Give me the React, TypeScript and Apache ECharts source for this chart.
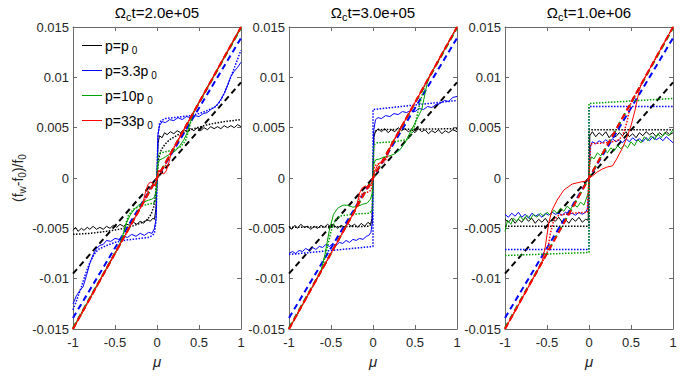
import { useEffect, useRef } from 'react';
import * as echarts from 'echarts';

type Pt = [number, number];

const FONT = '"Liberation Sans", Arial, Helvetica, sans-serif';

const panelTimes = ['2.0e+05', '3.0e+05', '1.0e+06'];
const legendNames = ['p=p0', 'p=3.3p0', 'p=10p0', 'p=33p0'];
const lineColors = ['#000000', '#0000ff', '#009f00', '#ff0000'];
const colorKeys = ['black', 'blue', 'green', 'red'];

// dashed reference lines (same in each panel)
const blackDash: Pt[] = [[-1, -0.0095], [1, 0.0095]];
const blueDash: Pt[] = [[-1, -0.0139], [1, 0.0139]];
const greenDash: Pt[] = [[-1, -0.0149], [1, 0.0149]];
const redDash: Pt[] = [[-1, -0.015], [1, 0.015]];

// ---------- Panel 1: Ωct = 2.0e+05 ----------
const p1BlackDot: Pt[] = [[-1, -0.0056], [-0.8, -0.0055], [-0.6, -0.0053], [-0.45, -0.0051], [-0.3, -0.0048], [-0.2, -0.0045], [-0.12, -0.0042], [-0.07, -0.0036], [-0.04, -0.0029], [-0.02, -0.0018], [-0.008, -0.0008], [0, 0], [0.008, 0.0009], [0.02, 0.0019], [0.05, 0.0028], [0.1, 0.0034], [0.15, 0.0038], [0.25, 0.0043], [0.4, 0.0048], [0.6, 0.0053], [0.8, 0.0056], [1, 0.0058]];
const p1BlackSolid: Pt[] = [[-1, -0.0052], [-0.97, -0.0049], [-0.94, -0.0053], [-0.9, -0.005], [-0.87, -0.0052], [-0.83, -0.0049], [-0.8, -0.0051], [-0.76, -0.0048], [-0.72, -0.0051], [-0.68, -0.0049], [-0.64, -0.0051], [-0.6, -0.0048], [-0.56, -0.005], [-0.52, -0.0047], [-0.48, -0.0049], [-0.44, -0.0046], [-0.4, -0.0048], [-0.36, -0.0046], [-0.32, -0.0047], [-0.28, -0.0044], [-0.24, -0.0046], [-0.2, -0.0043], [-0.16, -0.0045], [-0.12, -0.0041], [-0.08, -0.0043], [-0.05, -0.004], [-0.03, -0.0041], [-0.012, -0.003], [0, 0], [0.012, 0.0034], [0.03, 0.0042], [0.06, 0.004], [0.09, 0.0045], [0.12, 0.0043], [0.16, 0.0046], [0.2, 0.0044], [0.24, 0.0047], [0.28, 0.0045], [0.32, 0.0048], [0.36, 0.0046], [0.4, 0.0049], [0.44, 0.0047], [0.48, 0.005], [0.52, 0.0047], [0.56, 0.005], [0.6, 0.0048], [0.64, 0.0051], [0.68, 0.0049], [0.72, 0.0051], [0.76, 0.0049], [0.8, 0.0052], [0.84, 0.005], [0.88, 0.0052], [0.92, 0.005], [0.96, 0.0053], [1, 0.0051]];
const p1BlueDot: Pt[] = [[-1, -0.0131], [-0.95, -0.012], [-0.9, -0.0108], [-0.85, -0.0095], [-0.8, -0.0084], [-0.75, -0.0076], [-0.7, -0.0071], [-0.6, -0.0067], [-0.5, -0.0064], [-0.4, -0.0062], [-0.3, -0.0061], [-0.2, -0.006], [-0.1, -0.0059], [-0.05, -0.0057], [-0.03, -0.0054], [-0.015, -0.0045], [-0.005, -0.0022], [0, 0], [0.005, 0.0022], [0.015, 0.0045], [0.03, 0.0054], [0.05, 0.0057], [0.1, 0.0059], [0.2, 0.006], [0.3, 0.0061], [0.4, 0.0062], [0.5, 0.0064], [0.6, 0.0067], [0.7, 0.0071], [0.75, 0.0076], [0.8, 0.0084], [0.85, 0.0094], [0.9, 0.0105], [0.95, 0.0116], [1, 0.0127]];
const p1BlueSolid: Pt[] = [[-1, -0.0125], [-0.96, -0.0117], [-0.92, -0.0112], [-0.88, -0.0108], [-0.84, -0.0097], [-0.8, -0.0085], [-0.76, -0.0076], [-0.72, -0.007], [-0.68, -0.0067], [-0.64, -0.0066], [-0.6, -0.0062], [-0.55, -0.0063], [-0.5, -0.006], [-0.45, -0.0061], [-0.4, -0.0058], [-0.35, -0.0059], [-0.3, -0.0056], [-0.25, -0.0058], [-0.2, -0.0055], [-0.15, -0.0057], [-0.1, -0.0054], [-0.06, -0.0055], [-0.03, -0.005], [-0.01, -0.004], [0, 0], [0.01, 0.0042], [0.03, 0.0052], [0.06, 0.0056], [0.1, 0.0055], [0.15, 0.0058], [0.2, 0.0057], [0.25, 0.006], [0.3, 0.0058], [0.35, 0.0061], [0.4, 0.006], [0.45, 0.0062], [0.5, 0.0061], [0.55, 0.0064], [0.6, 0.0065], [0.64, 0.0068], [0.68, 0.007], [0.72, 0.0073], [0.76, 0.0078], [0.8, 0.0084], [0.84, 0.0092], [0.88, 0.0101], [0.92, 0.0106], [0.96, 0.011], [1, 0.0115]];
const p1GreenDot: Pt[] = [[-1, -0.015], [-0.42, -0.0063], [-0.38, -0.0048], [-0.34, -0.0037], [-0.28, -0.0031], [-0.2, -0.0028], [-0.1, -0.0026], [-0.04, -0.0025], [-0.015, -0.0022], [0, 0], [0.015, 0.0022], [0.04, 0.0025], [0.1, 0.0026], [0.2, 0.0028], [0.28, 0.0031], [0.34, 0.0037], [0.38, 0.0048], [0.42, 0.0063], [1, 0.015]];
const p1GreenSolid: Pt[] = [[-1, -0.0149], [-0.45, -0.0067], [-0.4, -0.0055], [-0.36, -0.0044], [-0.32, -0.0037], [-0.27, -0.0031], [-0.22, -0.0027], [-0.16, -0.0024], [-0.1, -0.0022], [-0.06, -0.0021], [-0.03, -0.0019], [-0.01, -0.0013], [0, 0], [0.01, 0.0014], [0.03, 0.0018], [0.06, 0.0019], [0.1, 0.0021], [0.16, 0.0024], [0.22, 0.0027], [0.27, 0.0032], [0.32, 0.0038], [0.36, 0.0045], [0.4, 0.0056], [0.45, 0.0068], [1, 0.0149]];
const p1RedDot: Pt[] = [[-1, -0.015], [-0.13, -0.00195], [-0.1, -0.0012], [-0.06, -0.0008], [-0.03, -0.0007], [-0.01, -0.0004], [0, 0], [0.01, 0.0004], [0.03, 0.0007], [0.06, 0.0008], [0.1, 0.0012], [0.13, 0.00195], [1, 0.015]];
const p1RedSolid: Pt[] = [[-1, -0.015], [-0.17, -0.00255], [-0.14, -0.0015], [-0.11, -0.0007], [-0.08, -0.0004], [-0.05, -0.0005], [-0.02, -0.0008], [0, 0], [0.02, 0.0008], [0.05, 0.0005], [0.08, 0.0004], [0.11, 0.0007], [0.14, 0.0015], [0.17, 0.00255], [1, 0.015]];

// ---------- Panel 2: Ωct = 3.0e+05 ----------
const p2BlackDot: Pt[] = [[-1, -0.0049], [-0.05, -0.0048], [-0.01, -0.0045], [0, 0], [0.01, 0.0045], [0.05, 0.0048], [1, 0.0049]];
const p2BlackSolid: Pt[] = [[-1, -0.0048], [-0.97, -0.0051], [-0.93, -0.0047], [-0.9, -0.005], [-0.86, -0.0046], [-0.82, -0.0049], [-0.78, -0.0048], [-0.74, -0.0051], [-0.7, -0.0048], [-0.66, -0.005], [-0.62, -0.0047], [-0.58, -0.0049], [-0.54, -0.0046], [-0.5, -0.0049], [-0.46, -0.0047], [-0.42, -0.005], [-0.38, -0.0047], [-0.34, -0.0049], [-0.3, -0.0045], [-0.26, -0.0048], [-0.22, -0.0046], [-0.18, -0.0049], [-0.14, -0.0045], [-0.1, -0.0048], [-0.06, -0.0044], [-0.03, -0.0046], [-0.01, -0.004], [0, 0], [0.01, 0.0041], [0.03, 0.0046], [0.06, 0.0049], [0.1, 0.0046], [0.14, 0.0049], [0.18, 0.0045], [0.22, 0.0048], [0.26, 0.0046], [0.3, 0.005], [0.34, 0.0047], [0.38, 0.0049], [0.42, 0.0046], [0.46, 0.0048], [0.5, 0.0045], [0.54, 0.0049], [0.58, 0.0046], [0.62, 0.0048], [0.66, 0.0044], [0.7, 0.0047], [0.74, 0.0045], [0.78, 0.0048], [0.82, 0.0044], [0.86, 0.0047], [0.9, 0.0045], [0.95, 0.0048], [1, 0.0046]];
const p2BlueDot: Pt[] = [[-1, -0.0076], [0, -0.0068], [0, 0.0068], [1, 0.0077]];
const p2BlueSolid: Pt[] = [[-1, -0.0075], [-0.96, -0.0073], [-0.92, -0.0075], [-0.88, -0.0072], [-0.84, -0.0073], [-0.8, -0.007], [-0.76, -0.0072], [-0.72, -0.0069], [-0.68, -0.0071], [-0.64, -0.0068], [-0.6, -0.0069], [-0.56, -0.0066], [-0.52, -0.0068], [-0.48, -0.0065], [-0.44, -0.0067], [-0.4, -0.0064], [-0.36, -0.0065], [-0.32, -0.0062], [-0.28, -0.0064], [-0.24, -0.0061], [-0.2, -0.0062], [-0.16, -0.006], [-0.12, -0.0061], [-0.08, -0.0058], [-0.05, -0.0057], [-0.025, -0.0054], [-0.01, -0.0045], [0, 0], [0.01, 0.0048], [0.03, 0.0058], [0.06, 0.006], [0.1, 0.0059], [0.15, 0.0062], [0.2, 0.0061], [0.25, 0.0064], [0.3, 0.0063], [0.35, 0.0066], [0.4, 0.0065], [0.45, 0.0067], [0.5, 0.0066], [0.55, 0.0069], [0.6, 0.0068], [0.65, 0.0071], [0.7, 0.007], [0.75, 0.0073], [0.8, 0.0074], [0.85, 0.0077], [0.9, 0.0076], [0.95, 0.008], [1, 0.0081]];
const p2GreenDot: Pt[] = [[-1, -0.015], [-0.62, -0.0093], [-0.56, -0.0075], [-0.5, -0.0053], [-0.45, -0.0042], [-0.4, -0.0038], [-0.25, -0.0036], [-0.05, -0.0035], [-0.01, -0.0033], [0, 0], [0.01, 0.0033], [0.05, 0.0035], [0.25, 0.0036], [0.4, 0.0038], [0.45, 0.0042], [0.5, 0.0053], [0.56, 0.0075], [0.62, 0.0093], [1, 0.015]];
const p2GreenSolid: Pt[] = [[-1, -0.015], [-0.62, -0.0093], [-0.57, -0.0075], [-0.52, -0.0052], [-0.47, -0.0036], [-0.42, -0.003], [-0.36, -0.0027], [-0.3, -0.0027], [-0.24, -0.0029], [-0.18, -0.0028], [-0.12, -0.0026], [-0.07, -0.0025], [-0.03, -0.0021], [-0.01, -0.0015], [0, 0], [0.01, 0.0014], [0.03, 0.0018], [0.08, 0.0019], [0.14, 0.0021], [0.2, 0.0022], [0.26, 0.0024], [0.32, 0.0028], [0.38, 0.0035], [0.44, 0.0045], [0.52, 0.0058], [0.58, 0.0068], [0.64, 0.0092], [0.66, 0.0099], [1, 0.015]];
const p2RedDot: Pt[] = [[-1, -0.015], [-0.2, -0.003], [-0.16, -0.0019], [-0.12, -0.0015], [-0.06, -0.0014], [-0.02, -0.0012], [0, 0], [0.02, 0.0012], [0.06, 0.0014], [0.12, 0.0015], [0.16, 0.0019], [0.2, 0.003], [1, 0.015]];
const p2RedSolid: Pt[] = [[-1, -0.015], [-0.22, -0.0033], [-0.19, -0.0026], [-0.16, -0.0015], [-0.13, -0.001], [-0.09, -0.0008], [-0.05, -0.001], [-0.02, -0.0006], [0, 0], [0.02, 0.0006], [0.05, 0.0012], [0.09, 0.0016], [0.13, 0.0017], [0.16, 0.0021], [0.19, 0.0027], [0.22, 0.0033], [1, 0.015]];

// ---------- Panel 3: Ωct = 1.0e+06 ----------
const p3BlackDot: Pt[] = [[-1, -0.0048], [0, -0.0048], [0, 0.0048], [1, 0.0048]];
const p3BlackSolid: Pt[] = [[-1, -0.0041], [-0.96, -0.0044], [-0.92, -0.004], [-0.88, -0.0045], [-0.84, -0.0041], [-0.8, -0.0044], [-0.76, -0.0039], [-0.72, -0.0043], [-0.68, -0.004], [-0.64, -0.0045], [-0.6, -0.0041], [-0.56, -0.0044], [-0.52, -0.004], [-0.48, -0.0045], [-0.44, -0.0041], [-0.4, -0.0043], [-0.36, -0.0039], [-0.32, -0.0044], [-0.28, -0.0041], [-0.24, -0.0045], [-0.2, -0.004], [-0.16, -0.0043], [-0.12, -0.0039], [-0.08, -0.0044], [-0.04, -0.0041], [-0.01, -0.0042], [0, 0], [0.01, 0.0042], [0.04, 0.0046], [0.08, 0.0041], [0.12, 0.0045], [0.16, 0.0042], [0.2, 0.0046], [0.24, 0.004], [0.28, 0.0044], [0.32, 0.0041], [0.36, 0.0045], [0.4, 0.0042], [0.44, 0.0046], [0.48, 0.0041], [0.52, 0.0044], [0.56, 0.004], [0.6, 0.0045], [0.64, 0.0042], [0.68, 0.0046], [0.72, 0.0043], [0.76, 0.0045], [0.8, 0.0041], [0.84, 0.0045], [0.88, 0.0042], [0.92, 0.0046], [0.96, 0.0043], [1, 0.0045]];
const p3BlueDot: Pt[] = [[-1, -0.0071], [0, -0.0071], [0, 0.0071], [1, 0.0071]];
const p3BlueSolid: Pt[] = [[-1, -0.0036], [-0.96, -0.0039], [-0.92, -0.0035], [-0.88, -0.0038], [-0.84, -0.0034], [-0.8, -0.0039], [-0.76, -0.0036], [-0.72, -0.004], [-0.68, -0.0035], [-0.64, -0.0038], [-0.6, -0.0036], [-0.56, -0.0039], [-0.52, -0.0035], [-0.48, -0.0037], [-0.44, -0.0034], [-0.4, -0.0036], [-0.36, -0.0035], [-0.32, -0.0037], [-0.28, -0.0034], [-0.24, -0.0036], [-0.2, -0.0035], [-0.16, -0.0037], [-0.12, -0.0034], [-0.08, -0.0036], [-0.04, -0.0034], [-0.015, -0.003], [0, 0], [0.015, 0.0031], [0.04, 0.0036], [0.08, 0.0034], [0.12, 0.0037], [0.16, 0.0035], [0.2, 0.0038], [0.24, 0.0035], [0.28, 0.0039], [0.32, 0.0036], [0.36, 0.0038], [0.4, 0.0035], [0.44, 0.0039], [0.48, 0.0036], [0.52, 0.004], [0.56, 0.0037], [0.6, 0.0039], [0.64, 0.0036], [0.68, 0.004], [0.72, 0.0037], [0.76, 0.0041], [0.8, 0.0038], [0.84, 0.004], [0.88, 0.0037], [0.92, 0.0041], [0.96, 0.0038], [1, 0.0035]];
const p3GreenDot: Pt[] = [[-1, -0.0077], [0, -0.0074], [0, 0.0074], [1, 0.0079]];
const p3GreenSolid: Pt[] = [[-1, -0.0053], [-0.97, -0.0042], [-0.93, -0.0046], [-0.9, -0.004], [-0.86, -0.0043], [-0.82, -0.0038], [-0.78, -0.0042], [-0.74, -0.0037], [-0.7, -0.0041], [-0.66, -0.0036], [-0.62, -0.0039], [-0.58, -0.0035], [-0.54, -0.0038], [-0.5, -0.0034], [-0.46, -0.0037], [-0.42, -0.0032], [-0.38, -0.0035], [-0.34, -0.003], [-0.3, -0.0033], [-0.26, -0.0028], [-0.22, -0.0031], [-0.18, -0.0026], [-0.14, -0.0029], [-0.1, -0.0024], [-0.06, -0.0027], [-0.03, -0.002], [-0.01, -0.0015], [0, 0], [0.01, 0.0016], [0.03, 0.0021], [0.06, 0.0019], [0.1, 0.0025], [0.14, 0.0022], [0.18, 0.0028], [0.22, 0.0025], [0.26, 0.003], [0.3, 0.0027], [0.34, 0.0032], [0.38, 0.0029], [0.42, 0.0033], [0.46, 0.003], [0.5, 0.0036], [0.54, 0.0032], [0.58, 0.0038], [0.62, 0.0035], [0.66, 0.0041], [0.7, 0.0037], [0.74, 0.0042], [0.78, 0.0038], [0.82, 0.0044], [0.86, 0.004], [0.9, 0.0045], [0.95, 0.0042], [1, 0.0048]];
const p3RedDot: Pt[] = [[-1, -0.015], [-0.5, -0.0075], [-0.46, -0.0055], [-0.42, -0.0042], [-0.36, -0.0037], [-0.2, -0.0035], [-0.02, -0.0034], [0, 0], [0.02, 0.0034], [0.2, 0.0035], [0.34, 0.0037], [0.4, 0.0042], [0.45, 0.0055], [0.5, 0.0075], [1, 0.015]];
const p3RedSolid: Pt[] = [[-1, -0.015], [-0.56, -0.0084], [-0.52, -0.0068], [-0.48, -0.0045], [-0.44, -0.0032], [-0.38, -0.0022], [-0.3, -0.0012], [-0.2, -0.0006], [-0.1, -0.0004], [-0.03, -0.0003], [0, 0], [0.04, 0.0002], [0.1, 0.0006], [0.16, 0.0009], [0.22, 0.0011], [0.28, 0.0012], [0.33, 0.0019], [0.4, 0.003], [0.45, 0.004], [0.5, 0.0052], [0.55, 0.0068], [0.6, 0.0088], [0.63, 0.00945], [1, 0.015]];

const panelData: Record<string, Pt[]>[] = [
  { blackDot: p1BlackDot, blackSolid: p1BlackSolid, blueDot: p1BlueDot, blueSolid: p1BlueSolid, greenDot: p1GreenDot, greenSolid: p1GreenSolid, redDot: p1RedDot, redSolid: p1RedSolid },
  { blackDot: p2BlackDot, blackSolid: p2BlackSolid, blueDot: p2BlueDot, blueSolid: p2BlueSolid, greenDot: p2GreenDot, greenSolid: p2GreenSolid, redDot: p2RedDot, redSolid: p2RedSolid },
  { blackDot: p3BlackDot, blackSolid: p3BlackSolid, blueDot: p3BlueDot, blueSolid: p3BlueSolid, greenDot: p3GreenDot, greenSolid: p3GreenSolid, redDot: p3RedDot, redSolid: p3RedSolid },
];
const dashData: Record<string, Pt[]> = { black: blackDash, blue: blueDash, green: greenDash, red: redDash };

const gridLefts = [73, 289, 505];
const GRID_TOP = 27;
const GRID_W = 168;
const GRID_H = 302;
const AXIS_COLOR = '#6a6a6a';
const LABEL_COLOR = '#262626';

// legend box layout (panel 1, top-left)
const LEG_X = 82;
const LEG_Y0 = 45.5;
const LEG_ROW = 25;
const LEG_LINE_W = 20;

function buildOption() {
  const grid = gridLefts.map((l) => ({ left: l, top: GRID_TOP, width: GRID_W, height: GRID_H, show: false }));
  const xAxis: any[] = [];
  const yAxis: any[] = [];
  const tickCommon = { show: true, inside: true, length: 4, lineStyle: { color: AXIS_COLOR, width: 1 } };
  const lineCommon = { show: true, onZero: false, lineStyle: { color: AXIS_COLOR, width: 1 } };
  gridLefts.forEach((_, i) => {
    xAxis.push({
      gridIndex: i, type: 'value', min: -1, max: 1, interval: 0.5, position: 'bottom',
      axisLine: lineCommon, axisTick: tickCommon, splitLine: { show: false },
      axisLabel: { fontSize: 13, color: LABEL_COLOR, fontFamily: FONT, margin: 7, formatter: (v: number) => String(v) },
      name: 'μ', nameLocation: 'middle', nameGap: 25,
      nameTextStyle: { fontSize: 15, color: LABEL_COLOR, fontFamily: FONT, fontStyle: 'italic' },
    });
    xAxis.push({
      gridIndex: i, type: 'value', min: -1, max: 1, interval: 0.5, position: 'top',
      axisLine: lineCommon, axisTick: tickCommon, splitLine: { show: false }, axisLabel: { show: false },
    });
    yAxis.push({
      gridIndex: i, type: 'value', min: -0.015, max: 0.015, interval: 0.005, position: 'left',
      axisLine: lineCommon, axisTick: tickCommon, splitLine: { show: false },
      axisLabel: { fontSize: 13, color: LABEL_COLOR, fontFamily: FONT, margin: 4, formatter: (v: number) => String(Math.round(v * 1000) / 1000) },
      ...(i === 0
        ? {
            name: '{a|(f}{s|w}{a|-f}{s|0}{a|)/f}{s|0}', nameLocation: 'middle', nameGap: 46, nameRotate: 90,
            nameTextStyle: {
              fontSize: 14, color: LABEL_COLOR, fontFamily: FONT,
              rich: {
                a: { fontSize: 14, color: LABEL_COLOR, fontFamily: FONT },
                s: { fontSize: 10, color: LABEL_COLOR, fontFamily: FONT, padding: [8, 0, 0, 0] },
              },
            },
          }
        : {}),
    });
    yAxis.push({
      gridIndex: i, type: 'value', min: -0.015, max: 0.015, interval: 0.005, position: 'right',
      axisLine: lineCommon, axisTick: tickCommon, splitLine: { show: false }, axisLabel: { show: false },
    });
  });

  const series: any[] = [];
  panelData.forEach((pd, i) => {
    colorKeys.forEach((ck, c) => {
      const color = lineColors[c];
      const base = { type: 'line', xAxisIndex: 2 * i, yAxisIndex: 2 * i, symbol: 'none', silent: true, animation: false };
      series.push({ ...base, name: `p${i + 1}-${ck}-dot`, data: pd[ck + 'Dot'], lineStyle: { color, width: 1.5, type: [1.5, 1.5], cap: 'butt' }, itemStyle: { color } });
      series.push({ ...base, name: i === 0 ? legendNames[c] : `p${i + 1}-${ck}-solid`, data: pd[ck + 'Solid'], lineStyle: { color, width: 1 }, itemStyle: { color } });
      series.push({ ...base, name: `p${i + 1}-${ck}-dash`, data: dashData[ck], lineStyle: { color, width: 2, type: [6, 4], cap: 'butt' }, itemStyle: { color } });
    });
  });

  const centers = gridLefts.map((l) => l + GRID_W / 2);
  const title = panelTimes.map((t, i) => ({
    text: `{a|Ω}{s|c}{a|t=${t}}`,
    left: centers[i], top: 2, padding: 0, textAlign: 'center',
    textStyle: {
      fontSize: 15, fontWeight: 'normal', color: '#000', fontFamily: FONT,
      rich: {
        a: { fontSize: 15, color: '#000', fontFamily: FONT },
        s: { fontSize: 11, color: '#000', fontFamily: FONT, padding: [9, 0, 0, 0] },
      },
    },
  }));

  // legend drawn as line samples + rich text labels
  const graphic: any[] = [];
  legendNames.forEach((n, c) => {
    const y = LEG_Y0 + c * LEG_ROW;
    graphic.push({
      type: 'line', silent: true, z: 10,
      shape: { x1: LEG_X, y1: y, x2: LEG_X + LEG_LINE_W, y2: y },
      style: { stroke: lineColors[c], lineWidth: 1 },
    });
    graphic.push({
      type: 'text', silent: true, z: 10, x: LEG_X + LEG_LINE_W + 3, y: y,
      style: {
        text: n.replace(/p0$/, 'p{s|0}'),
        fill: '#000', fontSize: 14, fontFamily: FONT,
        verticalAlign: 'middle', align: 'left',
        rich: { s: { fontSize: 10, fill: '#000', fontFamily: FONT, padding: [9, 0, 0, 3] } },
      },
    });
  });

  return {
    animation: false,
    backgroundColor: '#ffffff',
    title,
    graphic,
    grid, xAxis, yAxis, series,
  };
}

export default function App() {
  const ref = useRef<HTMLDivElement>(null);
  useEffect(() => {
    const chart = echarts.init(ref.current!, null, { renderer: 'svg' });
    chart.setOption(buildOption() as any);
    return () => chart.dispose();
  }, []);
  return <div ref={ref} style={{ position: 'absolute', left: 0, top: 0, width: 698, height: 376, background: '#fff' }} />;
}
